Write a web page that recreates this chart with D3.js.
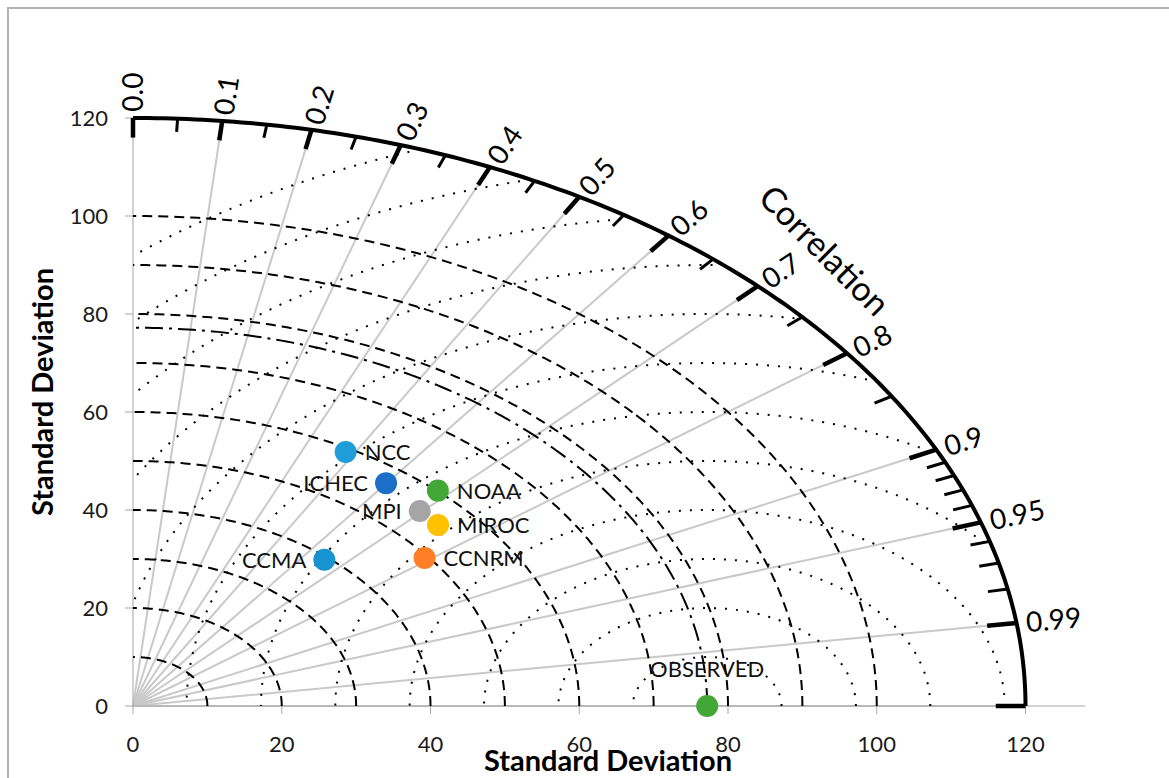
<!DOCTYPE html>
<html>
<head>
<meta charset="utf-8">
<script src="https://cdn.jsdelivr.net/npm/d3@7"></script>
<style>
  body { margin: 0; background: #fff; }
  svg { display: block; font-family: Lato, "Open Sans", sans-serif; }
</style>
</head>
<body>
<svg width="1169" height="778"></svg>
<script>
// data
var models = ["NCC", "ICHEC", "NOAA", "MPI", "MIROC", "CCNRM", "CCMA", "OBSERVED"];
var stdDev = [59.2, 56.8, 60.1, 55.4, 55.2, 49.5, 39.4, 77.2];
var correlation = [0.483, 0.599, 0.682, 0.696, 0.743, 0.792, 0.653, 1.0];
var colors = ["#1f9dd9", "#1c6fc6", "#43a738", "#a5a5a5", "#ffc000", "#ff7f27", "#1794cf", "#43a738"];
var labelSide = ["right", "left", "right", "left", "right", "right", "left", "above"];

var observedSD = 77.2;
var corrMajor = [0, 0.1, 0.2, 0.3, 0.4, 0.5, 0.6, 0.7, 0.8, 0.9, 0.95, 0.99, 1];
var corrLabels = ["0.0", "0.1", "0.2", "0.3", "0.4", "0.5", "0.6", "0.7", "0.8", "0.9", "0.95", "0.99"];
var corrMinor = [0.05, 0.15, 0.25, 0.35, 0.45, 0.55, 0.65, 0.75, 0.85,
  0.91, 0.92, 0.93, 0.94, 0.96, 0.97, 0.98];
var sdCircles = [10, 20, 30, 40, 50, 60, 70, 80, 90, 100];
var rmsCircles = [10, 20, 30, 40, 50, 60, 70, 80, 90, 100, 110, 120];
var sdTicks = [0, 20, 40, 60, 80, 100, 120];
var sdMax = 120;

var svg = d3.select("svg");

var x = d3.scaleLinear().domain([0, 128]).range([133, 1085]);
var y = d3.scaleLinear().domain([0, 120]).range([706, 118]);

function px(sd, theta) {
  return [x(sd * Math.cos(theta)), y(sd * Math.sin(theta))];
}

var line = d3.line();

function arcPath(r, a0, a1) {
  var pts = d3.range(0, 181).map(function (i) {
    return px(r, a0 + (a1 - a0) * i / 180);
  });
  return line(pts);
}

// outer frame
svg.append("rect")
  .attr("x", 8).attr("y", 8)
  .attr("width", 1200).attr("height", 800)
  .attr("fill", "none")
  .attr("stroke", "#b4b4b4")
  .attr("stroke-width", 2);

// radial correlation lines
svg.append("g")
  .selectAll("line")
  .data(corrMajor.slice(1))
  .enter()
  .append("line")
  .attr("x1", x(0)).attr("y1", y(0))
  .attr("x2", function (d) { return px(sdMax - 4, Math.acos(d))[0]; })
  .attr("y2", function (d) { return px(sdMax - 4, Math.acos(d))[1]; })
  .style("stroke", "#c9c9c9")
  .attr("stroke-width", 2);

// axes
var xAxis = svg.append("g").attr("transform", "translate(0," + y(0) + ")");
xAxis.append("line")
  .attr("x1", x(0)).attr("x2", x(128))
  .style("stroke", "#a6a6a6").attr("stroke-width", 1);
xAxis.selectAll("line.tick")
  .data(sdTicks)
  .enter()
  .append("line")
  .attr("class", "tick")
  .attr("x1", function (d) { return x(d); })
  .attr("x2", function (d) { return x(d); })
  .attr("y1", 0).attr("y2", 8)
  .style("stroke", "#a6a6a6");
xAxis.selectAll("text")
  .data(sdTicks)
  .enter()
  .append("text")
  .attr("x", function (d) { return x(d); })
  .attr("y", 46)
  .attr("text-anchor", "middle")
  .style("font-size", "22px")
  .style("fill", "#1a1a1a")
  .text(function (d) { return d; });

var yAxis = svg.append("g").attr("transform", "translate(" + x(0) + ",0)");
yAxis.append("line")
  .attr("y1", y(0)).attr("y2", y(120))
  .style("stroke", "#a6a6a6").attr("stroke-width", 1);
yAxis.selectAll("line.tick")
  .data(sdTicks)
  .enter()
  .append("line")
  .attr("class", "tick")
  .attr("y1", function (d) { return y(d); })
  .attr("y2", function (d) { return y(d); })
  .attr("x1", -8).attr("x2", 0)
  .style("stroke", "#a6a6a6");
yAxis.selectAll("text")
  .data(sdTicks)
  .enter()
  .append("text")
  .attr("x", -25)
  .attr("y", function (d) { return y(d); })
  .attr("dy", "0.36em")
  .attr("text-anchor", "end")
  .style("font-size", "22px")
  .style("fill", "#1a1a1a")
  .text(function (d) { return d; });

// standard deviation circles (dashed)
svg.append("g")
  .selectAll("path")
  .data(sdCircles)
  .enter()
  .append("path")
  .attr("d", function (d) { return arcPath(d, 0, Math.PI / 2); })
  .attr("fill", "none")
  .style("stroke", "#000")
  .attr("stroke-width", 2)
  .attr("stroke-dasharray", "10,6");

// centred RMS circles around the observation (dotted)
svg.append("g")
  .selectAll("path")
  .data(rmsCircles)
  .enter()
  .append("path")
  .attr("d", function (R) {
    var o = observedSD;
    var c0 = Math.min(1, (sdMax * sdMax - o * o - R * R) / (2 * o * R));
    var c1 = Math.max(-1, -o / R);
    var p0 = Math.acos(c0), p1 = Math.acos(c1);
    var pts = d3.range(0, 241).map(function (i) {
      var p = p0 + (p1 - p0) * i / 240;
      return [x(o + R * Math.cos(p)), y(R * Math.sin(p))];
    });
    return line(pts);
  })
  .attr("fill", "none")
  .style("stroke", "#000")
  .attr("stroke-width", 2)
  .attr("stroke-dasharray", "2,9");

// observed standard deviation (dash-dot)
svg.append("path")
  .attr("d", arcPath(observedSD, 0, Math.PI / 2))
  .attr("fill", "none")
  .style("stroke", "#000")
  .attr("stroke-width", 2)
  .attr("stroke-dasharray", "18,6,3,6");

// outer correlation arc
svg.append("path")
  .attr("d", arcPath(sdMax, 0, Math.PI / 2))
  .attr("fill", "none")
  .style("stroke", "#000")
  .attr("stroke-width", 4);

svg.append("g")
  .selectAll("line")
  .data(corrMajor)
  .enter()
  .append("line")
  .attr("x1", function (d) { return px(sdMax - 4, Math.acos(d))[0]; })
  .attr("y1", function (d) { return px(sdMax - 4, Math.acos(d))[1]; })
  .attr("x2", function (d) { return px(sdMax, Math.acos(d))[0]; })
  .attr("y2", function (d) { return px(sdMax, Math.acos(d))[1]; })
  .style("stroke", "#000")
  .attr("stroke-width", 4.5);

svg.append("g")
  .selectAll("line")
  .data(corrMinor)
  .enter()
  .append("line")
  .attr("x1", function (d) { return px(sdMax - 2.7, Math.acos(d))[0]; })
  .attr("y1", function (d) { return px(sdMax - 2.7, Math.acos(d))[1]; })
  .attr("x2", function (d) { return px(sdMax, Math.acos(d))[0]; })
  .attr("y2", function (d) { return px(sdMax, Math.acos(d))[1]; })
  .style("stroke", "#000")
  .attr("stroke-width", 3);

// correlation labels, turned along the rays
function screenAngle(theta) {
  var p = px(1, theta), o = px(0, 0);
  return Math.atan2(o[1] - p[1], p[0] - o[0]) * 180 / Math.PI;
}

svg.append("g")
  .selectAll("text")
  .data(corrLabels)
  .enter()
  .append("text")
  .attr("transform", function (d) {
    var t = Math.acos(+d);
    var p = px(sdMax + 1.3, t);
    return "translate(" + p[0] + "," + p[1] + ") rotate(" + (-screenAngle(t)) + ")";
  })
  .attr("dy", "0.36em")
  .style("font-size", "28px")
  .style("fill", "#000")
  .text(function (d) { return d; });

var cp = px(131.5, Math.PI / 4);
svg.append("text")
  .attr("transform", "translate(" + cp[0] + "," + cp[1] + ") rotate(45)")
  .attr("text-anchor", "middle")
  .attr("dy", "0.36em")
  .style("font-size", "34px")
  .text("Correlation");

// axis titles
svg.append("text")
  .attr("x", 608).attr("y", 771)
  .attr("text-anchor", "middle")
  .style("font-size", "29px")
  .style("font-weight", "bold")
  .text("Standard Deviation");

svg.append("text")
  .attr("transform", "translate(53,392) rotate(-90)")
  .attr("text-anchor", "middle")
  .style("font-size", "29px")
  .style("font-weight", "bold")
  .text("Standard Deviation");

// model points
var points = models.map(function (m, i) {
  var p = px(stdDev[i], Math.acos(correlation[i]));
  return { name: m, cx: p[0], cy: p[1], color: colors[i], side: labelSide[i] };
});

svg.append("g")
  .selectAll("circle")
  .data(points)
  .enter()
  .append("circle")
  .attr("cx", function (d) { return d.cx; })
  .attr("cy", function (d) { return d.cy; })
  .attr("r", 11)
  .style("fill", function (d) { return d.color; });

svg.append("g")
  .selectAll("text")
  .data(points)
  .enter()
  .append("text")
  .attr("x", function (d) {
    if (d.side === "right") return d.cx + 19;
    if (d.side === "left") return d.cx - 18;
    return d.cx;
  })
  .attr("y", function (d) { return d.side === "above" ? d.cy - 37 : d.cy; })
  .attr("dy", "0.36em")
  .attr("text-anchor", function (d) {
    if (d.side === "right") return "start";
    if (d.side === "left") return "end";
    return "middle";
  })
  .style("font-size", "22px")
  .style("fill", "#111")
  .text(function (d) { return d.name; });
</script>
</body>
</html>
